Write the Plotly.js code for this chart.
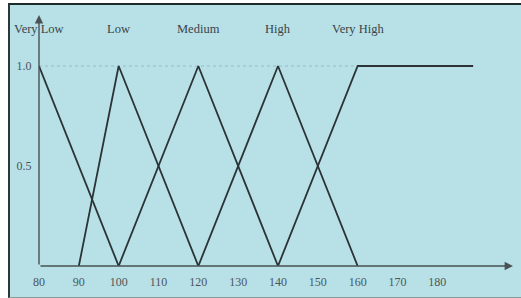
<!DOCTYPE html>
<html>
<head>
<meta charset="utf-8">
<script src="https://cdn.plot.ly/plotly-3.0.1.min.js"></script>
<style>
html,body{margin:0;padding:0;background:#ffffff;width:521px;height:298px;overflow:hidden;}
#bg{position:absolute;left:8px;top:3px;width:511px;height:292px;background:#b7e1e7;border-top:2px solid #1f2a2c;border-left:2px solid #2e3638;border-bottom:1px solid #8a9a9c;}
#chart{position:absolute;left:0;top:0;width:521px;height:298px;}
</style>
</head>
<body>
<div id="bg"></div>
<div id="chart"></div>
<script>
// Fuzzy membership functions
const categories = ["Very Low", "Low", "Medium", "High", "Very High"];
const categoryCenters = [80, 100, 120, 140, 160];

const veryLowX = [80, 100];
const veryLowY = [1, 0];
const lowX = [90, 100, 120];
const lowY = [0, 1, 0];
const mediumX = [100, 120, 140];
const mediumY = [0, 1, 0];
const highX = [120, 140, 160];
const highY = [0, 1, 0];
const veryHighX = [140, 160, 189];
const veryHighY = [0, 1, 1];

const refLineX = [80, 160];
const refLineY = [1, 1];

const xTicks = [80, 90, 100, 110, 120, 130, 140, 150, 160, 170, 180];
const yTicks = [0.5, 1.0];
const yTickText = ["0.5", "1.0"];

const lineColor = "#2b3336";
const serif = "Liberation Serif, DejaVu Serif, serif";

function series(x, y) {
  return {x: x, y: y, type: "scatter", mode: "lines", hoverinfo: "skip",
          line: {color: lineColor, width: 1.8}, showlegend: false, cliponaxis: false};
}

const traces = [
  {x: refLineX, y: refLineY, type: "scatter", mode: "lines", showlegend: false, hoverinfo: "skip",
   line: {color: "#95bcc2", width: 1, dash: "dot"}},
  series(veryLowX, veryLowY),
  series(lowX, lowY),
  series(mediumX, mediumY),
  series(highX, highY),
  series(veryHighX, veryHighY)
];

const annotations = categories.map((c, i) => ({
  x: categoryCenters[i], y: 1.185, xref: "x", yref: "y", text: c, showarrow: false,
  font: {family: serif, size: 12.5, color: "#3c4447"}, xanchor: "center", yanchor: "middle"
}));
// axis arrows
annotations.push({x: 199, y: 0, ax: 80, ay: 0, xref: "x", yref: "y", axref: "x", ayref: "y",
  text: "", showarrow: true, arrowhead: 2, arrowsize: 1.2, arrowwidth: 1.4, arrowcolor: "#4a5254"});
annotations.push({x: 80, y: 1.255, ax: 80, ay: 0, xref: "x", yref: "y", axref: "x", ayref: "y",
  text: "", showarrow: true, arrowhead: 2, arrowsize: 1.2, arrowwidth: 1.4, arrowcolor: "#4a5254"});

const layout = {
  width: 521, height: 298,
  margin: {l: 39, r: 8, t: 15, b: 32, pad: 0},
  paper_bgcolor: "rgba(0,0,0,0)",
  plot_bgcolor: "rgba(0,0,0,0)",
  showlegend: false,
  xaxis: {range: [80, 199], tickvals: xTicks, ticktext: xTicks.map(String), showgrid: false,
          zeroline: false, showline: false, ticks: "outside", ticklen: 5, tickcolor: "rgba(0,0,0,0)",
          tickfont: {family: serif, size: 12, color: "#4e5557"}, fixedrange: true},
  yaxis: {range: [0, 1.255], tickvals: yTicks, ticktext: yTickText, showgrid: false,
          zeroline: false, showline: false, ticks: "outside", ticklen: 4, tickcolor: "rgba(0,0,0,0)",
          tickfont: {family: serif, size: 12, color: "#4e5557"}, fixedrange: true},
  annotations: annotations
};

Plotly.newPlot("chart", traces, layout, {staticPlot: true, displayModeBar: false});
</script>
</body>
</html>
